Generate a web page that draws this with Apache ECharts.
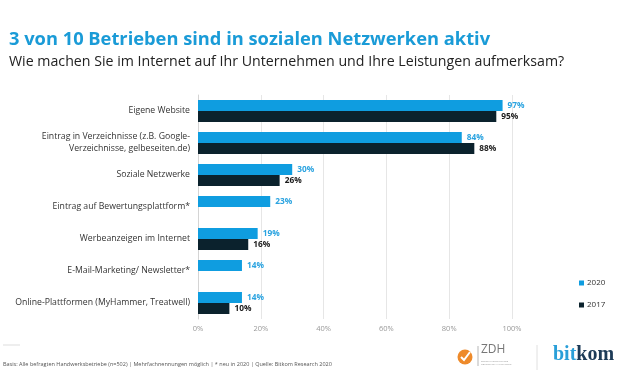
<!DOCTYPE html>
<html><head><meta charset="utf-8">
<script src="https://cdn.jsdelivr.net/npm/echarts@6/dist/echarts.min.js"></script>
<style>html,body{margin:0;padding:0;background:#fff}#c{width:620px;height:380px}</style>
</head><body><div id="c"></div>
<script>
const categories = [
  'Eigene Website',
  'Eintrag in Verzeichnisse (z.B. Google-\nVerzeichnisse, gelbeseiten.de)',
  'Soziale Netzwerke',
  'Eintrag auf Bewertungsplattform*',
  'Werbeanzeigen im Internet',
  'E-Mail-Marketing/ Newsletter*',
  'Online-Plattformen (MyHammer, Treatwell)'
];
const values2020 = [97, 84, 30, 23, 19, 14, 14];
const values2017 = [95, 88, 26, null, 16, null, 10];
const xTicks = [0, 20, 40, 60, 80, 100];
const seriesNames = ['2020', '2017'];

const blue = '#0f9de0', dark = '#0b222d';
const chart = echarts.init(document.getElementById('c'), null, {renderer: 'canvas'});
const font = 'Open Sans';
chart.setOption({
  animation: false,
  textStyle: {fontFamily: font},
  title: [
    {text: '3 von 10 Betrieben sind in sozialen Netzwerken aktiv', left: 4, top: 26,
     textStyle: {fontFamily: font, fontSize: 18.3, fontWeight: 'bold', color: '#1a9bd7'}},
    {text: 'Wie machen Sie im Internet auf Ihr Unternehmen und Ihre Leistungen aufmerksam?', left: 4, top: 50,
     textStyle: {fontFamily: font, fontSize: 14.2, fontWeight: 'normal', color: '#222'}}
  ],
  legend: {
    orient: 'vertical', left: 574, top: 274, itemGap: 14, itemWidth: 5, itemHeight: 5,
    icon: 'rect', data: seriesNames,
    textStyle: {fontSize: 8, color: '#333', fontFamily: font, padding: [0,0,0,-2]}
  },
  grid: {left: 198, right: 108, top: 95, height: 224, containLabel: false},
  xAxis: {
    type: 'value', min: 0, max: 100, interval: 20,
    axisLabel: {formatter: v => xTicks.includes(v) ? v + '%' : '', fontSize: 7.5, color: '#999', margin: 6},
    axisLine: {show: false}, axisTick: {show: false},
    splitLine: {lineStyle: {color: '#e6e6e6'}}
  },
  yAxis: {
    type: 'category', data: categories, inverse: true,
    axisLabel: {fontSize: 8.7, color: '#333', margin: 8, lineHeight: 12, align: 'right'},
    axisLine: {lineStyle: {color: '#d4d4d4'}}, axisTick: {show: false}
  },
  series: [
    {name: seriesNames[0], type: 'bar', data: values2020, barWidth: 11, barGap: '0%',
     itemStyle: {color: blue},
     label: {show: true, position: 'right', distance: 5, formatter: '{c}%', color: '#2aa3e0', fontSize: 8.3, fontWeight: 'bold'}},
    {name: seriesNames[1], type: 'bar', data: values2017, barWidth: 11, barGap: '0%',
     itemStyle: {color: dark},
     label: {show: true, position: 'right', distance: 5, formatter: '{c}%', color: '#1b1b1b', fontSize: 8.3, fontWeight: 'bold'}}
  ],
  graphic: [
    {type: 'line', shape: {x1: 3, y1: 345, x2: 20, y2: 345}, style: {stroke: '#ddd', lineWidth: 1}},
    {type: 'text', left: 3, top: 361, style: {text: 'Basis: Alle befragten Handwerksbetriebe (n=502) | Mehrfachnennungen möglich | * neu in 2020 | Quelle: Bitkom Research 2020', fontSize: 5.5, fill: '#555', fontFamily: font}},
    {type: 'circle', shape: {cx: 465, cy: 357, r: 7.5}, style: {fill: '#ee8a2a'}},
    {type: 'polyline', shape: {points: [[461, 357], [464, 360], [470, 352]]}, style: {stroke: '#fff', lineWidth: 2, fill: null}},
    {type: 'line', shape: {x1: 478, y1: 346, x2: 478, y2: 366}, style: {stroke: '#999', lineWidth: 0.7}},
    {type: 'text', left: 481, top: 344, style: {text: 'ZDH', fontSize: 12, fill: '#777', fontFamily: font}},
    {type: 'text', left: 481, top: 360, style: {text: 'ZENTRALVERBAND DES\nDEUTSCHEN HANDWERKS', fontSize: 2.5, fill: '#999', fontFamily: font}},
    {type: 'line', shape: {x1: 537, y1: 345, x2: 537, y2: 370}, style: {stroke: '#e0e0e0', lineWidth: 1}},
    {type: 'text', left: 553, top: 345, style: {text: '{a|bit}{b|kom}', rich: {a: {fontSize: 20, fontWeight: 'bold', fill: '#2a9fd8', fontFamily: 'Liberation Serif'}, b: {fontSize: 20, fontWeight: 'bold', fill: '#1d3b57', fontFamily: 'Liberation Serif'}}}}
  ]
});
</script></body></html>
